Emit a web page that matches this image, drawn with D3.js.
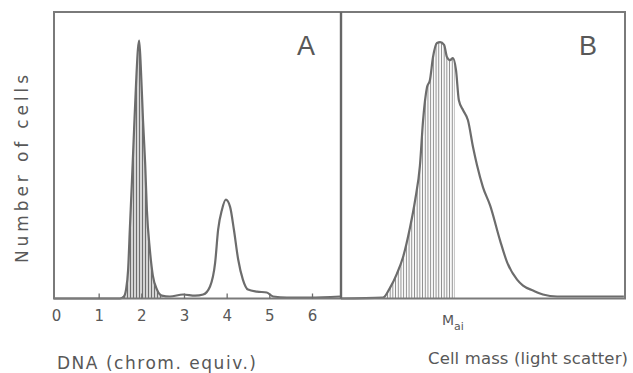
<!DOCTYPE html>
<html>
<head>
<meta charset="utf-8">
<script src="https://cdnjs.cloudflare.com/ajax/libs/d3/7.8.5/d3.min.js"></script>
<style>
  body { margin: 0; background: #fff; }
  svg { display: block; }
</style>
</head>
<body>
<div id="viz"></div>
<script>
// panel A: DNA content histogram (chrom. equiv.)
var dnaX = [-0.05, 1.5, 1.59, 1.64, 1.69, 1.73, 1.78, 1.83, 1.875, 1.92, 1.95, 1.99, 2.04, 2.09, 2.13, 2.2, 2.27, 2.37, 2.48, 2.67, 2.98, 3.26, 3.45, 3.61, 3.73, 3.80, 3.89, 3.98, 4.08, 4.17, 4.27, 4.38, 4.5, 4.71, 4.94, 5.09, 5.41, 5.95, 6.66];
var dnaY = [0, 0, 0.7, 3, 10, 24, 41, 59, 74.5, 87, 90, 80, 62, 47, 31, 17, 8, 3, 1, 0.7, 1.4, 1, 1.4, 4.2, 12.5, 24, 31, 34.5, 32, 24, 13.6, 6.6, 3.1, 2.4, 2.1, 0.7, 0.35, 0.35, 0.7];
var dnaTicks = [0, 1, 2, 3, 4, 5, 6];
var dnaHatch = [1.55, 2.5];

// panel B: cell mass (light scatter), arbitrary units
var massX = [0, 14.8, 17.3, 19.7, 21.8, 24.3, 26.1, 27.8, 28.9, 30.3, 31.3, 32.4, 33.8, 34.9, 36.3, 37.3, 38.4, 39.4, 40.5, 41.5, 43.0, 44.7, 46.5, 47.9, 50, 52.5, 56, 58.5, 62, 64.1, 67.6, 71.1, 76.1, 86.6, 99.6];
var massY = [0, 0.3, 3.8, 8.7, 14.3, 24.8, 34.3, 46.5, 62.2, 73.8, 76.2, 84.3, 89.2, 89.5, 88.5, 84.3, 83.2, 83.9, 79.7, 69.2, 65.7, 62.2, 52.8, 46.5, 38.8, 32.5, 20.3, 12.6, 6.6, 4.5, 2.8, 1.4, 0.7, 0.7, 0.7];
var massHatch = [14, 40.1];

var W = 633, H = 373;
var frameL = 54, frameM = 341, frameR = 625, frameT = 12, frameB = 298.5;
var ink = "#6c6c6c", textInk = "#585858";

var svg = d3.select("#viz").append("svg")
  .attr("width", W)
  .attr("height", H);

var xA = d3.scaleLinear().domain([0, 6]).range([56, 312]);
var xB = d3.scaleLinear().domain([0, 100]).range([frameM, frameR]);
var y = d3.scaleLinear().domain([0, 100]).range([frameB, frameT]);

// hatch patterns
var defs = svg.append("defs");
function hatch(id, step, col, sw) {
  var p = defs.append("pattern")
    .attr("id", id)
    .attr("patternUnits", "userSpaceOnUse")
    .attr("width", step).attr("height", 10);
  p.append("line")
    .attr("x1", step / 2).attr("x2", step / 2)
    .attr("y1", 0).attr("y2", 10)
    .attr("stroke", col).attr("stroke-width", sw);
}
hatch("hatchA", 3, "#6e6e6e", 1.6);
hatch("hatchB", 2.7, "#8a8a8a", 1);

function panel(xs, ys, xScale, range, pat, clipId) {
  var pts = xs.map((v, i) => [v, ys[i]]);
  defs.append("clipPath").attr("id", clipId)
    .append("rect")
    .attr("x", xScale(range[0])).attr("y", frameT)
    .attr("width", xScale(range[1]) - xScale(range[0]))
    .attr("height", frameB - frameT);

  var area = d3.area()
    .x(d => xScale(d[0]))
    .y0(frameB)
    .y1(d => y(d[1]))
    .curve(d3.curveMonotoneX);
  svg.append("path")
    .datum(pts)
    .attr("d", area)
    .attr("fill", "url(#" + pat + ")")
    .attr("clip-path", "url(#" + clipId + ")");

  var line = d3.line()
    .x(d => xScale(d[0]))
    .y(d => y(d[1]))
    .curve(d3.curveMonotoneX);
  svg.append("path")
    .datum(pts)
    .attr("d", line)
    .attr("fill", "none")
    .attr("stroke", ink)
    .attr("stroke-width", 2.2)
    .attr("stroke-linejoin", "round");
}

panel(dnaX, dnaY, xA, dnaHatch, "hatchA", "clipA");
panel(massX, massY, xB, massHatch, "hatchB", "clipB");

// frame and divider
svg.append("rect")
  .attr("x", frameL).attr("y", frameT)
  .attr("width", frameR - frameL).attr("height", frameB - frameT)
  .attr("fill", "none").attr("stroke", "#7a7a7a").attr("stroke-width", 2);
svg.append("line")
  .attr("x1", frameM).attr("x2", frameM).attr("y1", frameT).attr("y2", frameB)
  .attr("stroke", "#666").attr("stroke-width", 2.4);

// x axis of panel A (ticks inward)
var axisA = d3.axisBottom(xA)
  .tickValues(dnaTicks)
  .tickSizeInner(-5)
  .tickSizeOuter(0)
  .tickPadding(12)
  .tickFormat(d3.format("d"));
var gA = svg.append("g")
  .attr("transform", "translate(0," + frameB + ")")
  .call(axisA);
gA.select(".domain").remove();
gA.selectAll(".tick line").attr("stroke", ink).attr("stroke-width", 1.3)
  .filter(d => d === 0).remove();
gA.selectAll(".tick text")
  .attr("fill", textInk)
  .style("font-family", "DejaVu Sans")
  .style("font-size", "15px");

// panel letters
svg.append("text").attr("x", 297).attr("y", 55).text("A")
  .attr("fill", textInk).style("font-family", "Liberation Sans").style("font-size", "27px");
svg.append("text").attr("x", 579).attr("y", 55).text("B")
  .attr("fill", textInk).style("font-family", "Liberation Sans").style("font-size", "27px");

// M_ai label at the threshold
var mai = svg.append("text")
  .attr("x", xB(massHatch[1]) - 13).attr("y", 325)
  .attr("fill", textInk)
  .style("font-family", "DejaVu Sans").style("font-size", "14px");
mai.append("tspan").text("M");
mai.append("tspan").attr("dy", 5).style("font-size", "11px").text("ai");

// axis titles, spread to the widths seen in the figure
function spread(sel, target) {
  var n = sel.text().length;
  var w = sel.node().getComputedTextLength();
  sel.style("letter-spacing", ((target - w) / (n - 1)) + "px");
}
var tA = svg.append("text").attr("x", 57).attr("y", 369)
  .text("DNA (chrom. equiv.)")
  .attr("fill", textInk).style("font-family", "DejaVu Sans").style("font-size", "17px");
spread(tA, 199);
var tB = svg.append("text").attr("x", 428).attr("y", 364)
  .text("Cell mass (light scatter)")
  .attr("fill", textInk).style("font-family", "DejaVu Sans").style("font-size", "16.5px");
spread(tB, 200);
var tY = svg.append("text")
  .attr("transform", "translate(28,263) rotate(-90)")
  .text("Number of cells")
  .attr("fill", textInk).style("font-family", "DejaVu Sans").style("font-size", "17px");
spread(tY, 188);
</script>
</body>
</html>
